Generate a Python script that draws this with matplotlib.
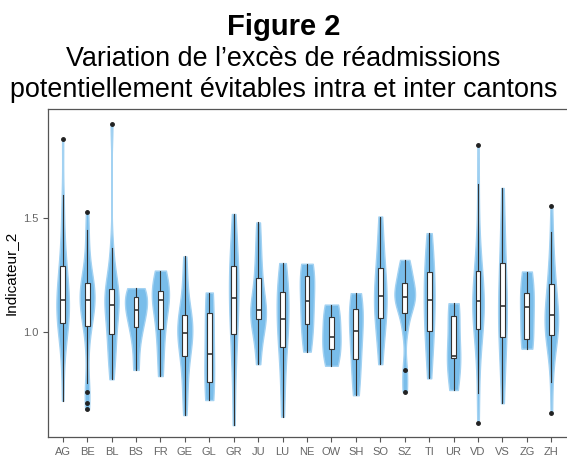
import matplotlib
matplotlib.use("Agg")
import matplotlib.pyplot as plt
import numpy as np

plt.rcParams['font.family'] = ['Liberation Sans', 'DejaVu Sans']

cantons = ["AG", "BE", "BL", "BS", "FR", "GE", "GL", "GR", "JU", "LU", "NE",
           "OW", "SH", "SO", "SZ", "TI", "UR", "VD", "VS", "ZG", "ZH"]

# values, per canton
AG = [0.70, 0.84, 0.93, 0.98, 1.01, 1.03, 1.04, 1.06, 1.08, 1.10, 1.11, 1.13, 1.14, 1.16, 1.18, 1.20,
      1.22, 1.25, 1.288, 1.31, 1.35, 1.42, 1.50, 1.60, 1.846]
BE = [0.662, 0.689, 0.737, 0.776, 0.90, 0.98, 1.028, 1.05, 1.07, 1.09, 1.105, 1.12, 1.14, 1.15, 1.165,
      1.18, 1.19, 1.205, 1.216, 1.24, 1.27, 1.31, 1.37, 1.449, 1.525]
BL = [0.794, 0.86, 0.91, 0.95, 0.991, 1.03, 1.07, 1.10, 1.121, 1.14, 1.16, 1.175, 1.19, 1.22, 1.27,
      1.368, 1.912]
BS = [0.835, 0.95, 1.025, 1.06, 1.096, 1.13, 1.156, 1.18, 1.193]
FR = [0.808, 0.93, 1.013, 1.09, 1.14, 1.16, 1.181, 1.23, 1.27]
GE = [0.637, 0.72, 0.79, 0.85, 0.896, 0.93, 0.955, 0.975, 0.998, 1.02, 1.04, 1.06, 1.076, 1.11, 1.17,
      1.24, 1.332]
GL = [0.703, 0.781, 0.905, 1.083, 1.174]
GR = [0.593, 0.80, 0.93, 0.991, 1.06, 1.11, 1.15, 1.20, 1.25, 1.291, 1.33, 1.40, 1.518]
JU = [0.860, 0.95, 1.02, 1.057, 1.07, 1.085, 1.098, 1.13, 1.18, 1.237, 1.30, 1.38, 1.481]
LU = [0.630, 0.76, 0.86, 0.936, 0.98, 1.02, 1.057, 1.10, 1.14, 1.175, 1.21, 1.25, 1.303]
NE = [0.915, 0.98, 1.035, 1.09, 1.136, 1.20, 1.247, 1.28, 1.30]
OW = [0.853, 0.928, 0.978, 1.067, 1.121]
SH = [0.724, 0.81, 0.883, 0.95, 1.007, 1.06, 1.101, 1.14, 1.171]
SO = [0.860, 0.96, 1.02, 1.061, 1.10, 1.13, 1.158, 1.19, 1.23, 1.283, 1.33, 1.41, 1.507]
SZ = [0.740, 0.835, 1.010, 1.086, 1.12, 1.14, 1.153, 1.17, 1.19, 1.215, 1.25, 1.29, 1.317]
TI = [0.798, 0.89, 0.96, 1.006, 1.05, 1.10, 1.14, 1.18, 1.22, 1.263, 1.31, 1.37, 1.434]
UR = [0.747, 0.889, 0.896, 1.070, 1.127]
VD = [0.601, 0.732, 0.84, 0.91, 0.96, 0.99, 1.016, 1.04, 1.06, 1.08, 1.10, 1.12, 1.136, 1.15, 1.17,
      1.19, 1.21, 1.24, 1.27, 1.30, 1.34, 1.40, 1.50, 1.648, 1.822]
VS = [0.689, 0.83, 0.92, 0.981, 1.04, 1.08, 1.115, 1.16, 1.22, 1.304, 1.38, 1.48, 1.632]
ZG = [0.928, 0.972, 1.112, 1.171, 1.266]
ZH = [0.645, 0.783, 0.87, 0.92, 0.95, 0.97, 0.987, 1.00, 1.02, 1.035, 1.05, 1.065, 1.076, 1.09, 1.11,
      1.13, 1.15, 1.18, 1.211, 1.24, 1.27, 1.31, 1.37, 1.441, 1.555]

data = [AG, BE, BL, BS, FR, GE, GL, GR, JU, LU, NE, OW, SH, SO, SZ, TI, UR, VD, VS, ZG, ZH]


# gaussian kde like R density() with bw.nrd0, trimmed to the data range
def kde(vals, adjust=1.1):
    x = np.asarray(vals)
    n = len(x)
    sd = np.std(x, ddof=1)
    iqr = np.subtract(*np.percentile(x, [75, 25]))
    bw = adjust * 0.9 * min(sd, iqr / 1.34) * n ** -0.2
    g = np.linspace(x.min(), x.max(), 512)
    d = np.exp(-0.5 * ((g[:, None] - x[None, :]) / bw) ** 2).sum(axis=1) / (n * bw * np.sqrt(2 * np.pi))
    return g, d

dens = [kde(v) for v in data]
dmax = max(d.max() for g, d in dens)

fig = plt.figure(figsize=(5.67, 4.57), dpi=100)
ax = fig.add_axes([48/567, 20/457, 518/567, 328/457])

pos = np.arange(len(cantons))
for i, (g, d) in enumerate(dens):
    w = 0.45 * d / dmax
    ax.fill_betweenx(g, i - w, i + w, facecolor='#79BDEA', edgecolor='#A3D2F2', lw=1.0, zorder=1)

ax.boxplot(data, positions=pos, widths=0.2, patch_artist=True, showcaps=False,
           boxprops=dict(facecolor='white', edgecolor='#333333', lw=0.8),
           medianprops=dict(color='#333333', lw=1.2),
           whiskerprops=dict(color='#333333', lw=0.8),
           flierprops=dict(marker='o', markersize=2.5, markerfacecolor='#222222',
                           markeredgecolor='#222222'),
           zorder=2)

ax.set_xlim(-0.6, len(cantons) - 0.4)
ax.set_ylim(0.541, 1.978)
ax.set_xticks(pos)
ax.set_xticklabels(cantons)
ax.set_yticks([1.0, 1.5])
ax.set_yticklabels(["1.0", "1.5"])
ax.tick_params(colors='#555555', labelcolor='#666666', labelsize=8, length=3.5, width=0.8)
ax.set_ylabel("Indicateur_2", fontsize=11, color='black', labelpad=4)
for s in ['left', 'bottom', 'top']:
    ax.spines[s].set_color('#555555')
    ax.spines[s].set_linewidth(0.9)
ax.spines['right'].set_visible(False)

fig.text(0.5, 1 - 35/457, "Figure 2", ha='center', va='baseline', fontsize=21, fontweight='bold')
fig.text(0.5, 1 - 66/457, "Variation de l\u2019exc\u00e8s de r\u00e9admissions", ha='center',
         va='baseline', fontsize=19.4)
fig.text(0.5, 1 - 97/457, "potentiellement \u00e9vitables intra et inter cantons", ha='center',
         va='baseline', fontsize=19.4)

fig.savefig("out.png", dpi=100)
